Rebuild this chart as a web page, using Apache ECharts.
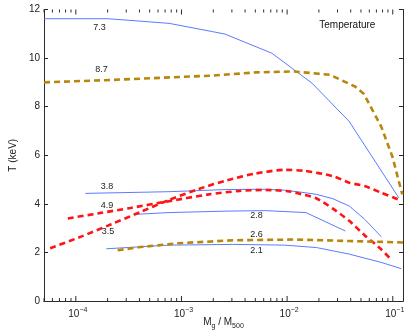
<!DOCTYPE html>
<html><head><meta charset="utf-8">
<script src="https://cdn.jsdelivr.net/npm/echarts@6/dist/echarts.min.js"></script>
<style>html,body{margin:0;padding:0;background:#fff}#c{width:409px;height:335px}</style>
</head><body><div id="c"></div>
<script>
// x values are log10(M_g / M500); y values are T in keV
const t73_x = [-4.301, -3.695, -3.118, -2.707, -2.589, -2.144, -1.765, -1.414, -0.943];
const t73_T = [11.62, 11.62, 11.43, 11.09, 10.99, 10.20, 8.97, 7.40, 4.25];

const t87_x = [-4.301, -3.665, -2.707, -2.295, -1.932, -1.594, -1.357, -1.275, -1.110, -1.004, -0.910];
const t87_T = [9.00, 9.10, 9.28, 9.41, 9.45, 9.31, 8.83, 8.53, 7.19, 5.95, 4.39];

const t38_x = [-3.909, -3.118, -2.570, -2.205, -2.023, -1.868, -1.722, -1.567, -1.412, -1.265, -1.110];
const t38_T = [4.43, 4.50, 4.59, 4.60, 4.56, 4.48, 4.39, 4.21, 3.91, 3.36, 2.65];

const t49_x = [-4.076, -3.756, -3.483, -3.118, -2.753, -2.452, -2.205, -1.995, -1.868, -1.722, -1.567, -1.412, -1.265, -1.110, -1.019];
const t49_T = [3.40, 3.63, 3.83, 4.11, 4.38, 4.53, 4.57, 4.52, 4.40, 4.22, 3.80, 3.30, 2.70, 2.13, 1.72];

const t35_x = [-4.243, -3.939, -3.665, -3.391, -3.118, -2.844, -2.570, -2.296, -2.023, -1.840, -1.567, -1.412, -1.265, -1.110, -0.946];
const t35_T = [2.17, 2.67, 3.16, 3.66, 4.16, 4.60, 4.97, 5.25, 5.40, 5.36, 5.14, 4.87, 4.73, 4.46, 4.18];

const t28_x = [-3.422, -3.118, -2.570, -2.205, -1.822, -1.448];
const t28_T = [3.57, 3.64, 3.70, 3.72, 3.64, 2.88];

const t26_x = [-3.604, -3.391, -3.026, -2.506, -1.932, -1.412, -0.900];
const t26_T = [2.09, 2.22, 2.38, 2.50, 2.53, 2.47, 2.41];

const t21_x = [-3.711, -3.118, -2.506, -2.023, -1.722, -1.412, -1.110, -0.919];
const t21_T = [2.15, 2.30, 2.33, 2.30, 2.20, 1.93, 1.59, 1.33];

const lineNames = ['7.3', '8.7', '3.8', '4.9', '3.5', '2.8', '2.6', '2.1'];
// label anchors (log10 x, T)
const labelX = [-3.775, -3.756, -3.704, -3.704, -3.695, -2.290, -2.290, -2.290];
const labelT = [11.24, 9.52, 4.73, 3.95, 2.86, 3.50, 2.75, 2.06];

const titleText = 'Temperature';
const titleAt = [-1.43, 11.36];

const xMajorExp = [-4, -3, -2, -1];
const yTicks = [0, 2, 4, 6, 8, 10, 12];

const X_MIN = Math.log10(5e-5), X_MAX = Math.log10(0.125);
const Y_MIN = 0, Y_MAX = 12;

const BLUE = '#5b7bff', BROWN = '#b8860b', RED = '#ff1414', AX = '#2b2b2b';
const FONT = 'Liberation Sans, Arial, Helvetica, sans-serif';

const zip = (xs, ys) => xs.map((x, i) => [x, ys[i]]);
const defs = [
  [t73_x, t73_T, BLUE, 'solid'],
  [t87_x, t87_T, BROWN, 'dash'],
  [t38_x, t38_T, BLUE, 'solid'],
  [t49_x, t49_T, RED, 'dash'],
  [t35_x, t35_T, RED, 'dash'],
  [t28_x, t28_T, BLUE, 'solid'],
  [t26_x, t26_T, BROWN, 'dash'],
  [t21_x, t21_T, BLUE, 'solid'],
];

const lineSeries = defs.map((d, i) => ({
  type: 'line', name: lineNames[i], data: zip(d[0], d[1]), symbol: 'none',
  smooth: d[2] === RED ? 0.25 : false,
  xAxisIndex: 0, yAxisIndex: 0,
  lineStyle: d[3] === 'solid' ? { color: d[2], width: 1 } : { color: d[2], width: 2.6, type: [6, 4] },
  z: d[3] === 'solid' ? 3 : 4, silent: true, animation: false
}));

// tick list for x axis (major at decades, minor at 2..9 x decade)
const xTicks = [];
for (let e = -5; e <= -1; e++) {
  for (let k = 1; k <= 9; k++) {
    const v = e + Math.log10(k);
    if (v >= X_MIN - 1e-9 && v <= X_MAX + 1e-9) xTicks.push([v, k === 1 ? 1 : 0, e]);
  }
}

const tickSeries = {
  type: 'custom', xAxisIndex: 0, yAxisIndex: 0, data: xTicks, clip: false, silent: true, z: 10,
  animation: false,
  renderItem(params, api) {
    const v = api.value(0), major = api.value(1), e = api.value(2);
    const pb = api.coord([v, Y_MIN]), pt = api.coord([v, Y_MAX]);
    const len = major ? 5 : 3;
    const ch = [
      { type: 'line', shape: { x1: pb[0], y1: pb[1], x2: pb[0], y2: pb[1] - len }, style: { stroke: AX, lineWidth: 1 } },
      { type: 'line', shape: { x1: pt[0], y1: pt[1], x2: pt[0], y2: pt[1] + len }, style: { stroke: AX, lineWidth: 1 } }
    ];
    if (major) {
      ch.push({ type: 'text', x: pb[0] + 2, y: pb[1] + 6,
        style: { text: '{b|10}{s|\u2212' + Math.abs(e) + '}', align: 'center', verticalAlign: 'top',
          rich: { b: { fontSize: 10, fontFamily: FONT, fill: '#222' },
                  s: { fontSize: 7, fontFamily: FONT, fill: '#222', padding: [0, 0, 8, 0] } } } });
    }
    return { type: 'group', children: ch };
  }
};

const labelSeries = {
  type: 'custom', xAxisIndex: 0, yAxisIndex: 0, silent: true, z: 11, animation: false,
  data: labelX.map((x, i) => [x, labelT[i], i]),
  renderItem(params, api) {
    const p = api.coord([api.value(0), api.value(1)]);
    return { type: 'text', x: p[0], y: p[1],
      style: { text: lineNames[api.value(2)], align: 'center', verticalAlign: 'middle', fontSize: 9, fontFamily: FONT, fill: '#222' } };
  }
};

const titleSeries = {
  type: 'custom', xAxisIndex: 0, yAxisIndex: 0, silent: true, z: 11, animation: false,
  data: [titleAt],
  renderItem(params, api) {
    const p = api.coord([api.value(0), api.value(1)]);
    return { type: 'text', x: p[0], y: p[1],
      style: { text: titleText, align: 'center', verticalAlign: 'middle', fontSize: 10, fontFamily: FONT, fill: '#111' } };
  }
};

const chart = echarts.init(document.getElementById('c'), null, { renderer: 'canvas' });
chart.setOption({
  animation: false,
  backgroundColor: '#fff',
  grid: { left: 30, right: 6, top: 9.5, bottom: 33, containLabel: false },
  xAxis: [
    { type: 'value', position: 'bottom', min: X_MIN, max: X_MAX,
      axisLine: { show: true, lineStyle: { color: AX, width: 1 } }, axisTick: { show: false },
      axisLabel: { show: false }, splitLine: { show: false },
      name: '{m|M}{sub|g}{m| / M}{sub|500}', nameLocation: 'middle', nameGap: 14,
      nameTextStyle: { rich: {
        m: { fontSize: 10, fontFamily: FONT, color: '#222' },
        sub: { fontSize: 7, fontFamily: FONT, color: '#222', padding: [8, 0, 0, 0] } } } },
    { type: 'value', position: 'top', min: X_MIN, max: X_MAX,
      axisLine: { show: true, lineStyle: { color: AX, width: 1 } }, axisTick: { show: false },
      axisLabel: { show: false }, splitLine: { show: false } }
  ],
  yAxis: [
    { type: 'value', position: 'left', min: Y_MIN, max: Y_MAX, interval: 2,
      axisLine: { show: true, lineStyle: { color: AX, width: 1 } },
      axisTick: { show: true, inside: true, length: 4, lineStyle: { color: AX } },
      axisLabel: { show: true, fontSize: 10, fontFamily: FONT, color: '#222', margin: 4,
        formatter: v => (yTicks.includes(v) ? String(v) : '') },
      splitLine: { show: false },
      name: 'T (keV)', nameLocation: 'middle', nameGap: 16, nameRotate: 90,
      nameTextStyle: { fontSize: 10, fontFamily: FONT, color: '#222' } },
    { type: 'value', position: 'right', min: Y_MIN, max: Y_MAX, interval: 2,
      axisLine: { show: true, lineStyle: { color: AX, width: 1 } },
      axisTick: { show: true, inside: true, length: 4, lineStyle: { color: AX } },
      axisLabel: { show: false }, splitLine: { show: false } }
  ],
  series: [...lineSeries, tickSeries, labelSeries, titleSeries]
});
</script>
</body></html>
